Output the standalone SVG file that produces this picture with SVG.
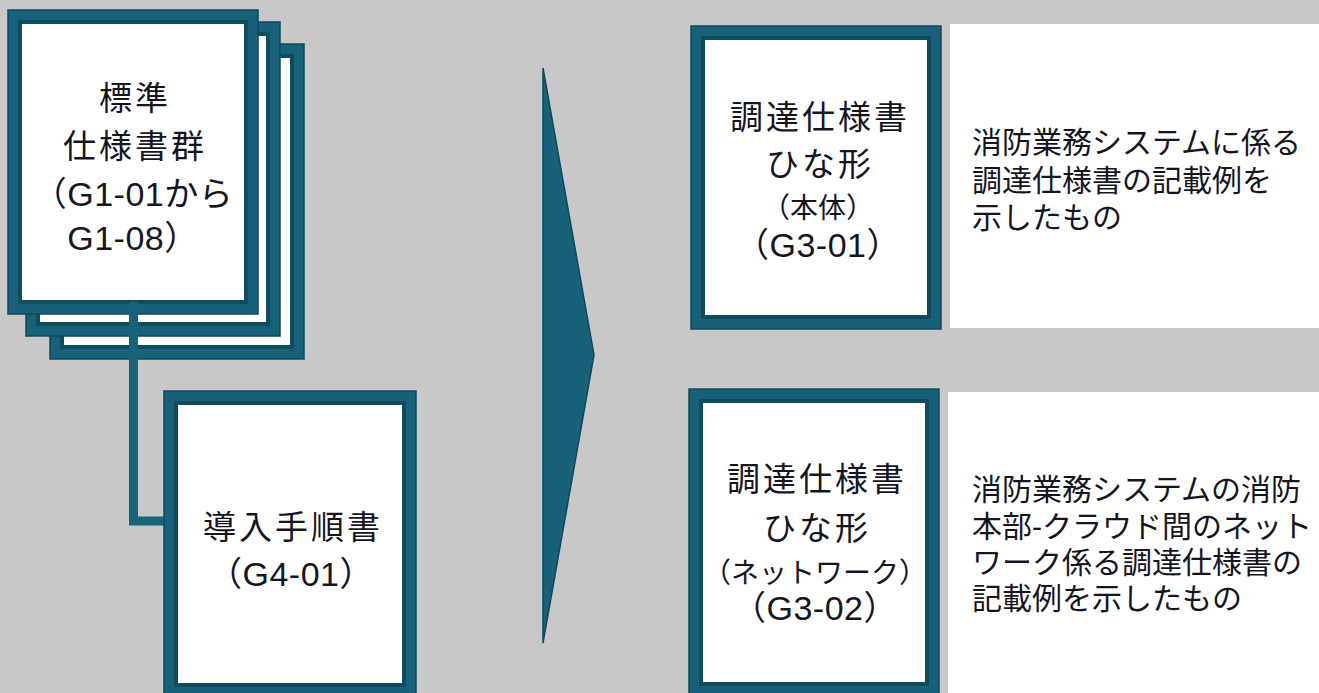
<svg xmlns="http://www.w3.org/2000/svg" width="1319" height="693" viewBox="0 0 1319 693">
<style>
.frame{fill:#17627a;stroke:#0e4a5a;stroke-width:1.5}
.inner{fill:#ffffff;stroke:#0f4c5d;stroke-width:4}
.panel{fill:#ffffff}
.t{font-family:"Liberation Sans","Noto Sans CJK JP",sans-serif;fill:#15151f;text-anchor:middle;font-size:33px;letter-spacing:3px}
.l{font-size:34px;letter-spacing:0.5px}
.s{font-size:28px;letter-spacing:0px}
.d{font-family:"Liberation Sans","Noto Sans CJK JP",sans-serif;fill:#15151f;font-size:30px}
.conn{fill:none;stroke:#17637a;stroke-width:9}
.chev{fill:#17627a;stroke:#0e4a5a;stroke-width:1.5}
</style>
<rect x="0" y="0" width="1319" height="693" fill="#c8c8c8"/>

<g id="stack">
  <g id="sheet3">
    <rect class="frame" x="50" y="44" width="254" height="315"/>
    <rect class="inner" x="62" y="56" width="230" height="291"/>
  </g>
  <g id="sheet2">
    <rect class="frame" x="26" y="22" width="254" height="314"/>
    <rect class="inner" x="38" y="34" width="230" height="290"/>
  </g>
  <g id="standard-specs">
    <rect class="frame" x="8" y="10" width="250" height="304"/>
    <rect class="inner" x="20" y="22" width="226" height="280"/>
    <text class="t" x="135" y="110">標準</text>
    <text class="t" x="135" y="158">仕様書群</text>
    <text class="t l" x="133" y="206">（G1-01から</text>
    <text class="t l" x="133" y="250">G1-08）</text>
  </g>
</g>

<g id="connectors">
  <path class="conn" d="M133.5,302 V521 H168"/>
</g>

<g id="intro-guide">
  <rect class="frame" x="164" y="391" width="252" height="306"/>
  <rect class="inner" x="176" y="403" width="228" height="282"/>
  <text class="t" x="293" y="539">導入手順書</text>
  <text class="t l" x="291" y="586">（G4-01）</text>
</g>

<g id="arrow">
  <polygon class="chev" points="543,68 594,355 543,643"/>
</g>

<g id="spec-main">
  <rect class="frame" x="691" y="26" width="250" height="303"/>
  <rect class="inner" x="703" y="38" width="226" height="279"/>
  <text class="t" x="820" y="129">調達仕様書</text>
  <text class="t" x="820" y="176">ひな形</text>
  <text class="t s" x="818" y="218">（本体）</text>
  <text class="t l" x="818" y="257">（G3-01）</text>
</g>
<g id="desc-main">
  <rect class="panel" x="950" y="24" width="369" height="304"/>
  <text class="d" x="972" y="153">消防業務システムに係る</text>
  <text class="d" x="972" y="191">調達仕様書の記載例を</text>
  <text class="d" x="972" y="228">示したもの</text>
</g>

<g id="spec-network">
  <rect class="frame" x="689" y="389" width="250" height="308"/>
  <rect class="inner" x="701" y="401" width="226" height="283"/>
  <text class="t" x="817" y="491">調達仕様書</text>
  <text class="t" x="817" y="540">ひな形</text>
  <text class="t s" x="815" y="583">（ネットワーク）</text>
  <text class="t l" x="815" y="620">（G3-02）</text>
</g>
<g id="desc-network">
  <rect class="panel" x="948" y="392" width="371" height="301"/>
  <text class="d" x="972" y="500">消防業務システムの消防</text>
  <text class="d" x="972" y="537">本部-クラウド間のネット</text>
  <text class="d" x="972" y="573">ワーク係る調達仕様書の</text>
  <text class="d" x="972" y="609">記載例を示したもの</text>
</g>
</svg>
